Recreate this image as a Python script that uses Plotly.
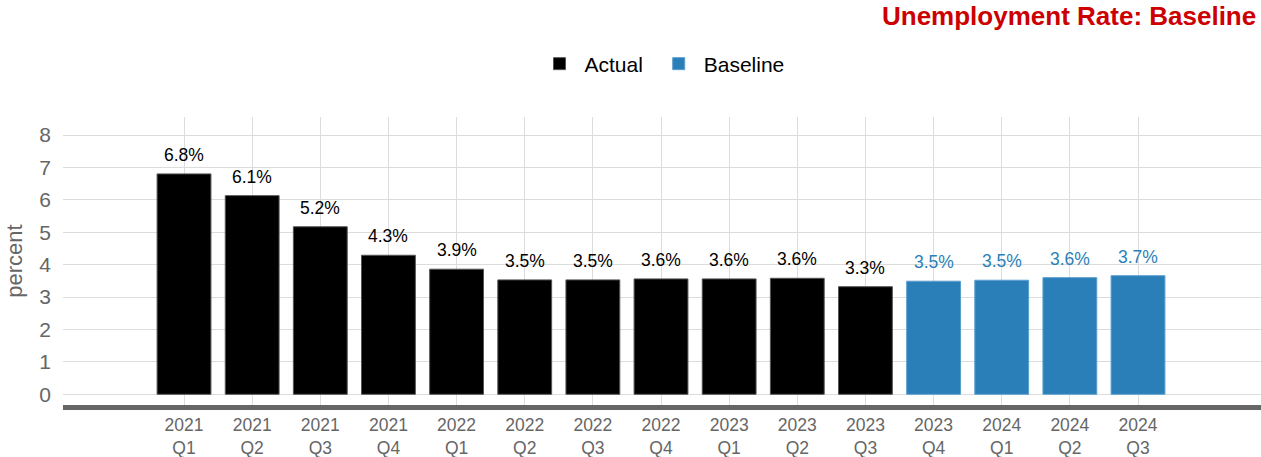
import plotly.graph_objects as go

categories = ["2021<br>Q1", "2021<br>Q2", "2021<br>Q3", "2021<br>Q4", "2022<br>Q1", "2022<br>Q2",
              "2022<br>Q3", "2022<br>Q4", "2023<br>Q1", "2023<br>Q2", "2023<br>Q3",
              "2023<br>Q4", "2024<br>Q1", "2024<br>Q2", "2024<br>Q3"]
actual_cats = categories[:11]
actual_vals = [6.8, 6.13, 5.17, 4.29, 3.86, 3.53, 3.53, 3.56, 3.56, 3.58, 3.32]
baseline_cats = categories[11:]
baseline_vals = [3.49, 3.52, 3.6, 3.66]
y_ticks = [0, 1, 2, 3, 4, 5, 6, 7, 8]

BLACK = "#000000"
BLUE = "#2b7fb8"
FONT = "Liberation Sans, Arial, sans-serif"

fig = go.Figure()
fig.add_trace(go.Bar(x=actual_cats, y=actual_vals, name="Actual\u00a0", marker_color=BLACK,
                     marker_line=dict(color="#555555", width=1), width=0.79))
fig.add_trace(go.Bar(x=baseline_cats, y=baseline_vals, name="Baseline", marker_color=BLUE,
                     marker_line=dict(color="#5a9fcf", width=1), width=0.79))

for cats, vals, col in [(actual_cats, actual_vals, BLACK), (baseline_cats, baseline_vals, BLUE)]:
    for c, v in zip(cats, vals):
        fig.add_annotation(x=c, y=v, text=f"{v:.1f}%", showarrow=False, yanchor="middle",
                           yshift=19, font=dict(size=17.5, color=col, family=FONT))

plot_top, plot_bottom = 117, 405
ph = plot_bottom - plot_top
fig.add_annotation(x=1, xref="paper", xanchor="right", xshift=-3,
                   y=(plot_bottom - 16) / ph, yref="paper", yanchor="middle",
                   text="<b>Unemployment Rate: Baseline</b>", showarrow=False,
                   font=dict(size=26, color="#cc0000", family=FONT))

fig.update_layout(
    width=1261, height=457,
    margin=dict(l=63, r=0, t=plot_top, b=457 - plot_bottom, autoexpand=False),
    paper_bgcolor="white", plot_bgcolor="white",
    font=dict(family=FONT, color="#666666"),
    showlegend=True,
    legend=dict(orientation="h", x=0.5, xanchor="center", y=(plot_bottom - 64) / ph, yanchor="middle",
                font=dict(size=21, color="#000000"), itemwidth=40),
    bargap=0.2,
)
fig.update_xaxes(
    type="category", categoryorder="array", categoryarray=categories,
    range=[-1.776, 15.805], showgrid=True, gridcolor="#dcdcdc", gridwidth=1,
    showline=True, linecolor="#666666", linewidth=5, ticks="",
    tickfont=dict(size=17.5, color="#666666"), automargin=False,
)
fig.update_yaxes(
    range=[-0.33, 8.556], tickvals=y_ticks, showgrid=True, gridcolor="#dcdcdc", gridwidth=1,
    zeroline=False, showline=False, tickfont=dict(size=21, color="#666666"),
    title=dict(text="percent", font=dict(size=22, color="#666666"), standoff=10),
    automargin=False, ticklabelstandoff=11,
)

fig.write_html("out.html", config={"displayModeBar": False},
               post_script="document.body.style.margin='0';document.body.style.overflow='hidden';")
